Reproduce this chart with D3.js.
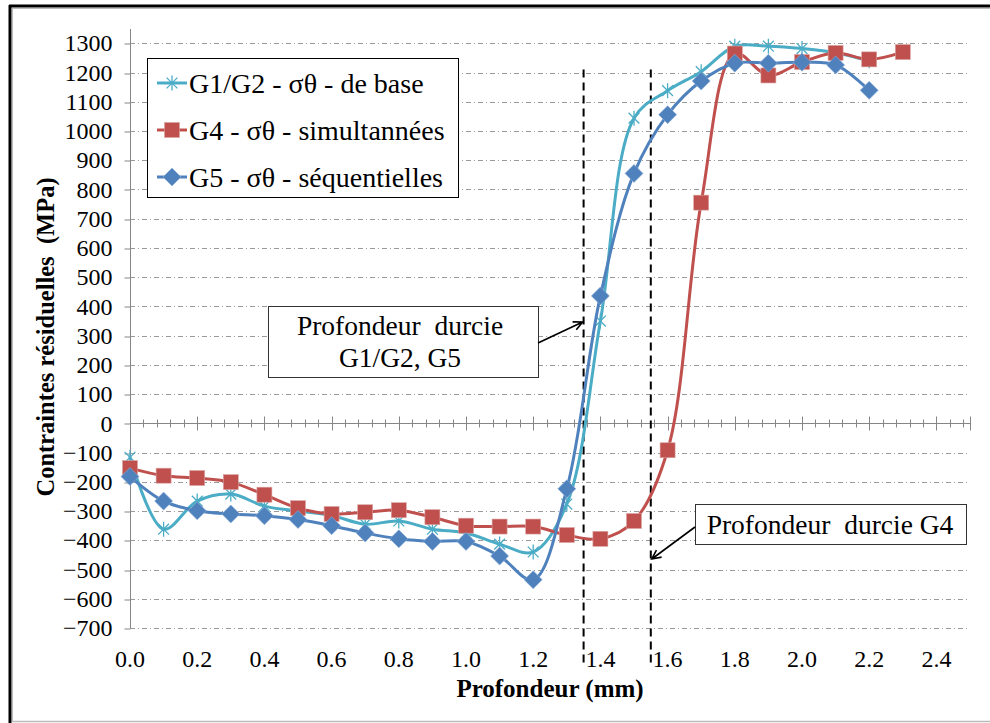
<!DOCTYPE html>
<html>
<head>
<meta charset="utf-8">
<script src="https://cdn.jsdelivr.net/npm/d3@7"></script>
<style>
  body { margin: 0; background: #fff; }
  svg { display: block; font-family: "Liberation Serif", "Times New Roman", serif; }
</style>
</head>
<body>
<div id="chart"></div>
<script>
// depth values (mm)
const depth = [0, 0.1, 0.2, 0.3, 0.4, 0.5, 0.6, 0.7, 0.8, 0.9, 1.0, 1.1,
  1.2, 1.3, 1.4, 1.5, 1.6, 1.7, 1.8, 1.9, 2.0, 2.1, 2.2, 2.3];

// residual stress (MPa) per series
const g12Base = [-116, -362, -266, -242, -283, -300, -315, -345, -334, -362, -375, -413,
  -440, -276, 350, 1044, 1138, 1203, 1290, 1290, 1282, 1268, 1240];
const g4Simult = [-153, -179, -187, -201, -244, -290, -310, -304, -297, -321, -350, -353,
  -353, -382, -395, -334, -92, 755, 1265, 1190, 1236, 1267, 1245, 1270];
const g5Sequ = [-182, -266, -299, -310, -316, -329, -350, -375, -395, -404, -404, -454,
  -535, -224, 436, 855, 1056, 1171, 1232, 1232, 1235, 1226, 1139];

const seriesNames = [
  "G1/G2 - σθ - de base",
  "G4 - σθ - simultannées",
  "G5 - σθ - séquentielles",
];
const seriesColors = ["#4BACC6", "#C0504D", "#4F81BD"];
const seriesMarkers = ["star", "square", "diamond"];

const xTicks = [0, 0.2, 0.4, 0.6, 0.8, 1.0, 1.2, 1.4, 1.6, 1.8, 2.0, 2.2, 2.4];
const yTicks = d3.range(-700, 1301, 100);

// hardened depth markers
const hardDepths = [1.35, 1.55];

const width = 990,
  height = 723;

const svg = d3
  .select("#chart")
  .append("svg")
  .attr("width", width)
  .attr("height", height);

// frame
svg.append("rect").attr("x", 0).attr("y", 0).attr("width", width).attr("height", height).attr("fill", "#fff");
svg.append("line").attr("x1", 10).attr("x2", 10).attr("y1", 5).attr("y2", 723).attr("stroke", "#000").attr("stroke-width", 3);
svg.append("line").attr("x1", 9).attr("x2", 990).attr("y1", 6).attr("y2", 6).attr("stroke", "#000").attr("stroke-width", 3);
svg.append("line").attr("x1", 12.5).attr("x2", 12.5).attr("y1", 8).attr("y2", 721).attr("stroke", "#bbb").attr("stroke-width", 1);
svg.append("line").attr("x1", 12).attr("x2", 990).attr("y1", 8.5).attr("y2", 8.5).attr("stroke", "#bbb").attr("stroke-width", 1);
svg.append("line").attr("x1", 12).attr("x2", 990).attr("y1", 721.5).attr("y2", 721.5).attr("stroke", "#bbb").attr("stroke-width", 1.5);

const xScale = d3.scaleLinear().domain([0, 2.5]).range([130, 970]);
const yScale = d3.scaleLinear().domain([-700, 1300]).range([628, 43.3]);

// gridlines
svg
  .append("g")
  .selectAll("line")
  .data(yTicks)
  .enter()
  .append("line")
  .attr("x1", 130)
  .attr("x2", 970)
  .attr("y1", (d) => Math.round(yScale(d)) + 0.5)
  .attr("y2", (d) => Math.round(yScale(d)) + 0.5)
  .attr("stroke", "#9a9a9a")
  .attr("stroke-width", 1)
  .attr("stroke-dasharray", "5,3,1,3");

// y axis
const yAxisGroup = svg
  .append("g")
  .attr("transform", "translate(130.5,0)")
  .call(d3.axisLeft(yScale).tickValues(yTicks).tickSize(6).tickPadding(12).tickFormat(d3.format("d")));
yAxisGroup.select(".domain").remove();
yAxisGroup
  .append("line")
  .attr("y1", 29)
  .attr("y2", yScale(-700))
  .attr("stroke", "#868686");
yAxisGroup.selectAll(".tick line").attr("stroke", "#868686").attr("transform", (d) => `translate(0,${Math.round(yScale(d)) + 0.5 - yScale(d)})`);
yAxisGroup
  .selectAll(".tick text")
  .attr("font-family", "Liberation Serif")
  .attr("font-size", "24px")
  .attr("fill", "#000");

// x axis at y = 0 (minor ticks every 0.04)
const y0 = Math.round(yScale(0)) + 0.5;
const xAxisGroup = svg.append("g");
xAxisGroup
  .append("line")
  .attr("x1", 130)
  .attr("x2", 970)
  .attr("y1", y0)
  .attr("y2", y0)
  .attr("stroke", "#868686");
xAxisGroup
  .selectAll(".minor")
  .data(d3.range(0, 63).map((i) => i * 0.04))
  .enter()
  .append("line")
  .attr("x1", (d) => Math.round(xScale(d)) + 0.5)
  .attr("x2", (d) => Math.round(xScale(d)) + 0.5)
  .attr("y1", y0 - 4)
  .attr("y2", y0 + 4)
  .attr("stroke", "#868686");
xAxisGroup
  .selectAll(".major")
  .data(xTicks.concat([2.5]))
  .enter()
  .append("line")
  .attr("x1", (d) => Math.round(xScale(d)) + 0.5)
  .attr("x2", (d) => Math.round(xScale(d)) + 0.5)
  .attr("y1", y0 - 7)
  .attr("y2", y0 + 7)
  .attr("stroke", "#868686");

// x tick labels at bottom
svg
  .append("g")
  .selectAll("text")
  .data(xTicks)
  .enter()
  .append("text")
  .attr("x", (d) => xScale(d))
  .attr("y", 667)
  .attr("text-anchor", "middle")
  .attr("font-size", "24px")
  .text((d) => d.toFixed(1));

// axis titles
svg
  .append("text")
  .attr("x", 550)
  .attr("y", 697)
  .attr("text-anchor", "middle")
  .attr("font-size", "25px")
  .attr("font-weight", "bold")
  .text("Profondeur (mm)");

svg
  .append("text")
  .attr("transform", "translate(54,337) rotate(-90)")
  .attr("text-anchor", "middle")
  .attr("font-size", "24.5px")
  .attr("font-weight", "bold")
  .attr("xml:space", "preserve")
  .style("white-space", "pre")
  .text("Contraintes résiduelles  (MPa)");

// hardened depth dashed lines
svg
  .append("g")
  .selectAll("line")
  .data(hardDepths)
  .enter()
  .append("line")
  .attr("x1", (d) => xScale(d))
  .attr("x2", (d) => xScale(d))
  .attr("y1", yScale(1210))
  .attr("y2", yScale(-820))
  .attr("stroke", "#000")
  .attr("stroke-width", 2)
  .attr("stroke-dasharray", "8,5");

// series
const seriesData = [g12Base, g4Simult, g5Sequ].map((vals, i) => ({
  name: seriesNames[i],
  color: seriesColors[i],
  marker: seriesMarkers[i],
  values: vals.map((v, j) => ({ x: depth[j], y: v })),
}));

const line = d3
  .line()
  .curve(d3.curveCatmullRom.alpha(0.5))
  .x((d) => xScale(d.x))
  .y((d) => yScale(d.y));

function drawMarker(g, type, color) {
  if (type === "square") {
    g.append("rect")
      .attr("x", -7.5)
      .attr("y", -7.5)
      .attr("width", 15)
      .attr("height", 15)
      .attr("fill", color)
      .attr("stroke", "#d9a4a3")
      .attr("stroke-width", 0.6);
  } else if (type === "diamond") {
    g.append("path")
      .attr("d", "M0,-9L9,0L0,9L-9,0Z")
      .attr("fill", color)
      .attr("stroke", "#8fb0d8")
      .attr("stroke-width", 0.6);
  } else {
    const r = 7.5;
    const k = r * 0.72;
    g.append("path")
      .attr("d", `M0,${-r}L0,${r}M${-k},${-k}L${k},${k}M${-k},${k}L${k},${-k}`)
      .attr("stroke", color)
      .attr("stroke-width", 1.3)
      .attr("fill", "none");
  }
}

seriesData.forEach((s) => {
  const g = svg.append("g").attr("class", "series");
  g.append("path")
    .datum(s.values)
    .attr("fill", "none")
    .attr("stroke", s.color)
    .attr("stroke-width", 3)
    .attr("stroke-linejoin", "round")
    .attr("stroke-linecap", "round")
    .attr("d", line);
  g.selectAll(".pt")
    .data(s.values)
    .enter()
    .append("g")
    .attr("class", "pt")
    .attr("transform", (d) => `translate(${xScale(d.x)},${yScale(d.y)})`)
    .each(function () {
      drawMarker(d3.select(this), s.marker, s.color);
    });
});

// legend
const legend = svg.append("g");
legend
  .append("rect")
  .attr("x", 147.5)
  .attr("y", 58.5)
  .attr("width", 311)
  .attr("height", 139)
  .attr("fill", "#fff")
  .attr("stroke", "#000")
  .attr("stroke-width", 1);
const legendItems = legend
  .selectAll(".item")
  .data(seriesData)
  .enter()
  .append("g")
  .attr("class", "item")
  .attr("transform", (d, i) => `translate(0,${83 + i * 47})`);
legendItems
  .append("line")
  .attr("x1", 157)
  .attr("x2", 187)
  .attr("stroke", (d) => d.color)
  .attr("stroke-width", 3);
legendItems.each(function (d) {
  drawMarker(d3.select(this).append("g").attr("transform", "translate(172,0)"), d.marker, d.color);
});
legendItems
  .append("text")
  .attr("x", 189)
  .attr("y", 10)
  .attr("font-size", "28px")
  .text((d) => d.name);

// annotation boxes
const notes = svg.append("g");
notes
  .append("rect")
  .attr("x", 268.5)
  .attr("y", 306.5)
  .attr("width", 270)
  .attr("height", 71)
  .attr("fill", "#fff")
  .attr("stroke", "#333");
notes
  .append("text")
  .attr("x", 400)
  .attr("y", 335)
  .attr("text-anchor", "middle")
  .attr("font-size", "27.5px")
  .attr("xml:space", "preserve")
  .style("white-space", "pre")
  .text("Profondeur  durcie");
notes
  .append("text")
  .attr("x", 400)
  .attr("y", 367)
  .attr("text-anchor", "middle")
  .attr("font-size", "27.5px")
  .text("G1/G2, G5");

notes
  .append("rect")
  .attr("x", 695.5)
  .attr("y", 504.5)
  .attr("width", 271)
  .attr("height", 40)
  .attr("fill", "#fff")
  .attr("stroke", "#333");
notes
  .append("text")
  .attr("x", 830)
  .attr("y", 534)
  .attr("text-anchor", "middle")
  .attr("font-size", "27.5px")
  .attr("xml:space", "preserve")
  .style("white-space", "pre")
  .text("Profondeur  durcie G4");

// arrows (open heads)
function arrow(x1, y1, x2, y2) {
  const a = Math.atan2(y2 - y1, x2 - x1);
  const L = 10,
    w = 0.45;
  notes
    .append("path")
    .attr(
      "d",
      `M${x1},${y1}L${x2},${y2}` +
        `M${x2 - L * Math.cos(a - w)},${y2 - L * Math.sin(a - w)}L${x2},${y2}` +
        `L${x2 - L * Math.cos(a + w)},${y2 - L * Math.sin(a + w)}`
    )
    .attr("fill", "none")
    .attr("stroke", "#000")
    .attr("stroke-width", 1.6);
}
arrow(538, 343, xScale(hardDepths[0]) - 1, 322);
arrow(695, 527, xScale(hardDepths[1]) + 1, 559);
</script>
</body>
</html>
